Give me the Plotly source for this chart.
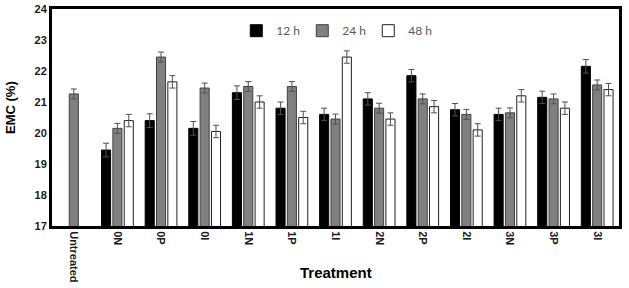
import plotly.graph_objects as go

categories = ["Untreated", "0N", "0P", "0I", "1N", "1P", "1I", "2N", "2P", "2I", "3N", "3P", "3I"]
emc_12h = [None, 19.45, 20.40, 20.15, 21.30, 20.80, 20.60, 21.10, 21.85, 20.75, 20.60, 21.15, 22.15]
emc_24h = [21.26, 20.15, 22.45, 21.45, 21.50, 21.50, 20.45, 20.80, 21.10, 20.60, 20.65, 21.10, 21.55]
emc_48h = [None, 20.40, 21.65, 20.05, 21.00, 20.50, 22.45, 20.45, 20.85, 20.10, 21.20, 20.80, 21.40]
err_12h = [None, 0.22, 0.22, 0.22, 0.22, 0.20, 0.20, 0.20, 0.20, 0.20, 0.20, 0.20, 0.22]
err_24h = [0.16, 0.16, 0.16, 0.16, 0.16, 0.16, 0.16, 0.16, 0.16, 0.16, 0.16, 0.16, 0.16]
err_48h = [None, 0.20, 0.20, 0.20, 0.20, 0.20, 0.20, 0.20, 0.20, 0.20, 0.20, 0.20, 0.20]
series_names = ["12 h", "24 h", "48 h"]
x_title = "Treatment"
y_title = "EMC (%)"

fills = ["#000000", "#808080", "#ffffff"]
outlines = ["#000000", "#404040", "#202020"]

fig = go.Figure()
for name, vals, errs, fc, lc in zip(series_names, [emc_12h, emc_24h, emc_48h],
                                    [err_12h, err_24h, err_48h], fills, outlines):
    fig.add_trace(go.Bar(
        x=categories, y=vals, name=name,
        marker=dict(color=fc, line=dict(color=lc, width=1)),
        error_y=dict(type="data", array=errs, visible=True,
                     color="#505050", thickness=1, width=3),
    ))

fig.update_layout(
    width=629, height=288,
    margin=dict(l=52, r=10, t=9, b=62),
    paper_bgcolor="white", plot_bgcolor="white",
    barmode="group", bargap=0.22, bargroupgap=0.2,
    showlegend=True,
    legend=dict(orientation="h", x=0.325, y=0.9, xanchor="left", yanchor="middle",
                font=dict(family="Lato, Open Sans, sans-serif", size=12, color="#595959"),
                bgcolor="rgba(0,0,0,0)", entrywidth=21, entrywidthmode="pixels",
                itemwidth=30),
    font=dict(family="Liberation Sans, Arial, sans-serif", color="#000000"),
    annotations=[
        dict(text=y_title, xref="paper", yref="paper", x=-0.0723, y=0.544,
             xanchor="center", yanchor="middle", textangle=-90, showarrow=False,
             font=dict(size=13, weight="bold", family="Liberation Sans, Arial, sans-serif",
                       color="#000000")),
        dict(text=x_title, xref="paper", yref="paper", x=0.5, y=-0.212,
             xanchor="center", yanchor="middle", showarrow=False,
             font=dict(size=15, weight="bold", family="Liberation Sans, Arial, sans-serif",
                       color="#000000")),
    ],
)
fig.update_yaxes(
    range=[17, 24], dtick=1, showgrid=False, zeroline=False, automargin=False,
    showline=True, linecolor="#000000", linewidth=3, mirror=True,
    ticks="", tickfont=dict(size=11, family="Liberation Sans, Arial, sans-serif",
                            color="#1a1a1a", weight="bold"),
)
fig.update_xaxes(
    showgrid=False, showline=True, linecolor="#000000", linewidth=3, mirror=True,
    ticks="", tickangle=90, automargin=False,
    tickfont=dict(size=11, family="Liberation Sans, Arial, sans-serif",
                  color="#1a1a1a", weight="bold"),
)

fig.write_html("out.html")
